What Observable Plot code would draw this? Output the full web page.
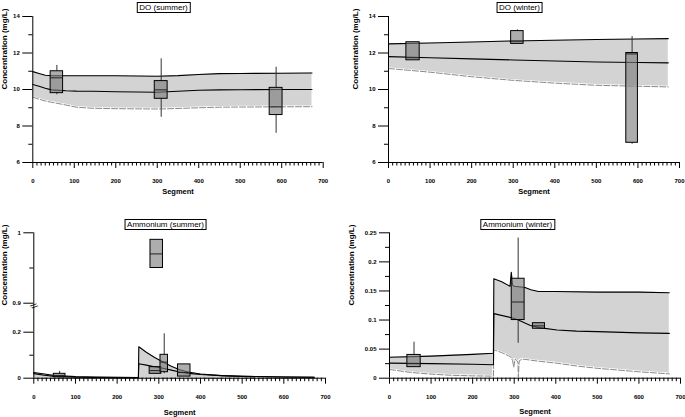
<!DOCTYPE html>
<html><head><meta charset="utf-8">
<script src="https://cdn.jsdelivr.net/npm/d3@7"></script>
<script src="https://cdn.jsdelivr.net/npm/@observablehq/plot@0.6"></script>
<style>
body{margin:0;background:#fff;}
#wrap{position:relative;width:685px;height:417px;overflow:hidden;background:#fff;font-family:"Liberation Sans",Arial,sans-serif;}
.title{position:absolute;transform:translateX(-50%);border:1px solid #000;padding:0 2px;font-size:8px;line-height:9px;white-space:nowrap;background:#fff;color:#000;}
</style></head><body><div id="wrap"></div>
<script>
// ---------- tick labels ----------
const xMajor = [0, 100, 200, 300, 400, 500, 600, 700];
const doYMajor = [6, 8, 10, 12, 14];
const doYMinor = [7, 9, 11, 13];
const amSumYMajor = [0, 0.2, 0.9, 1];
const amSumYMinor = [0.1, 0.95];
const amWinYMajor = [0, 0.05, 0.1, 0.15, 0.2, 0.25];
const amWinYMinor = [0.025, 0.075, 0.125, 0.175, 0.225];

// ---------- DO (summer) ----------
const doSumSeg   = [0, 15, 30, 45, 80, 105, 145, 200, 300, 350, 400, 450, 500, 600, 673];
const doSumUpper = [10.98, 10.88, 10.78, 10.75, 10.75, 10.75, 10.75, 10.75, 10.73, 10.76, 10.82, 10.87, 10.88, 10.89, 10.9];
const doSumMid   = [10.27, 10.18, 10.07, 9.98, 9.93, 9.91, 9.9, 9.88, 9.85, 9.9, 9.96, 9.98, 9.99, 10.0, 10.0];
const doSumLower = [9.58, 9.47, 9.37, 9.3, 9.15, 9.03, 8.97, 8.95, 8.93, 8.96, 9.0, 9.03, 9.04, 9.05, 9.06];
const doSumBoxFrom = [43, 294, 571];
const doSumBoxTo   = [73, 325, 602];
const doSumQ1  = [9.8, 9.49, 8.6];
const doSumQ3  = [11.0, 10.46, 10.09];
const doSumMed = [10.64, 9.98, 9.05];
const doSumLo  = [9.71, 8.48, 7.6];
const doSumHi  = [11.32, 11.68, 11.22];

// ---------- DO (winter) ----------
const doWinSeg   = [0, 100, 200, 300, 400, 500, 600, 673];
const doWinUpper = [12.5, 12.55, 12.6, 12.66, 12.7, 12.74, 12.77, 12.79];
const doWinMid   = [11.8, 11.74, 11.68, 11.62, 11.56, 11.51, 11.48, 11.46];
const doWinLower = [11.15, 10.95, 10.7, 10.5, 10.35, 10.23, 10.18, 10.14];
const doWinBoxFrom = [43, 295, 572];
const doWinBoxTo   = [75, 325, 600];
const doWinQ1  = [11.6, 12.5, 7.08];
const doWinQ3  = [12.59, 13.2, 12.0];
const doWinMed = [11.74, 12.65, 11.95];
const doWinLo  = [11.6, 12.5, 7.0];
const doWinHi  = [12.59, 13.27, 12.9];

// ---------- Ammonium (summer) ----------
const amSumSeg   = [0, 25, 50, 100, 150, 200, 251, 252, 270, 290, 310, 330, 350, 370, 400, 450, 500, 600, 673];
const amSumUpper = [0.025, 0.018, 0.012, 0.007, 0.005, 0.004, 0.003, 0.137, 0.113, 0.09, 0.07, 0.052, 0.037, 0.027, 0.018, 0.011, 0.008, 0.005, 0.004];
const amSumMid   = [0.02, 0.013, 0.008, 0.004, 0.003, 0.002, 0.002, 0.063, 0.057, 0.05, 0.043, 0.035, 0.027, 0.021, 0.016, 0.011, 0.008, 0.005, 0.004];
const amSumLower = [0, 0, 0, 0, 0, 0, 0, 0, 0, 0, 0, 0, 0, 0, 0, 0, 0, 0, 0];
const amSumBoxFrom = [48, 278, 304, 346, 280];
const amSumBoxTo   = [76, 306, 322, 376, 310];
const amSumQ1  = [0.004, 0.019, 0.026, 0.007, 0.95];
const amSumQ3  = [0.019, 0.048, 0.1017, 0.06, 0.99];
const amSumMed = [0.012, 0.033, 0.07, 0.025, 0.97];
const amSumLo  = [0.004, 0.019, 0.02, 0.007, 0.95];
const amSumHi  = [0.03, 0.048, 0.193, 0.06, 0.99];

// ---------- Ammonium (winter) ----------
const amWinUpSeg  = [0, 100, 200, 250, 251, 270, 290, 293, 296, 300, 326, 340, 358, 400, 500, 600, 673];
const amWinUpper  = [0.036, 0.038, 0.041, 0.043, 0.171, 0.166, 0.158, 0.182, 0.16, 0.158, 0.156, 0.152, 0.149, 0.149, 0.148, 0.148, 0.147];
const amWinMidSeg = [0, 100, 200, 250, 251, 294, 310, 339, 360, 403, 450, 500, 600, 673];
const amWinMid    = [0.026, 0.025, 0.024, 0.023, 0.111, 0.104, 0.1, 0.0906, 0.087, 0.083, 0.081, 0.08, 0.078, 0.077];
const amWinLoSeg  = [0, 50, 100, 150, 200, 250, 251, 270, 291, 296, 299, 302, 306, 309, 310, 312, 320, 350, 400, 450, 500, 600, 673];
const amWinLower  = [0.015, 0.01, 0.007, 0.005, 0.004, 0.0035, 0.049, 0.044, 0.037, 0.03, 0.019, 0.033, 0.03, 0.028, 0.002, 0.03, 0.033, 0.03, 0.026, 0.021, 0.017, 0.011, 0.0075];
const amWinBoxFrom = [43, 294, 345];
const amWinBoxTo   = [75, 325, 374];
const amWinQ1  = [0.019, 0.1, 0.085];
const amWinQ3  = [0.04, 0.171, 0.0946];
const amWinMed = [0.025, 0.131, 0.09];
const amWinLo  = [0.019, 0.06, 0.085];
const amWinHi  = [0.062, 0.241, 0.0946];

const xMinor = d3.range(0, 701, 10).filter(v => v % 100 !== 0);
const BAND = "#d3d3d3";
const FONT = "'Liberation Sans', Arial, sans-serif";

function pts(seg, vals) { return seg.map((s, i) => ({s, v: vals[i]})); }

function panel(p) {
  const up = pts(p.upSeg, p.up), mid = pts(p.midSeg, p.mid), lo = pts(p.loSeg, p.lo);
  const boxes = p.from.map((f, i) => ({from: f, to: p.to[i], q1: p.q1[i], q3: p.q3[i], med: p.med[i], wlo: p.wlo[i], whi: p.whi[i]}));
  const yMin = p.yDomain[0], yMax = p.yDomain[p.yDomain.length - 1];
  const cx = d => (d.from + d.to) / 2;
  const marks = [
    Plot.area(up, {x1: "s", y1: () => yMin, y2: "v", fill: BAND}),
    Plot.area(lo, {x1: "s", y1: () => yMin, y2: "v", fill: "#ffffff", stroke: "#ffffff", strokeWidth: 1.5}),
    Plot.line(lo, {x: "s", y: "v", stroke: "#8a8a8a", strokeWidth: 1, strokeDasharray: "6,2"}),
    Plot.line(mid, {x: "s", y: "v", stroke: "#000", strokeWidth: 1.1}),
    Plot.line(up, {x: "s", y: "v", stroke: "#000", strokeWidth: 1.1}),
    Plot.ruleX(boxes.filter(d => d.whi > d.q3), {x: cx, y1: "q3", y2: "whi", stroke: "#333", strokeWidth: 1}),
    Plot.ruleX(boxes.filter(d => d.wlo < d.q1), {x: cx, y1: "wlo", y2: "q1", stroke: "#333", strokeWidth: 1}),
    Plot.rect(boxes, {x1: "from", x2: "to", y1: "q1", y2: "q3", fill: "#7a7a7a", fillOpacity: 0.62, stroke: "#000", strokeWidth: 1}),
    Plot.ruleY(boxes, {x1: "from", x2: "to", y: "med", stroke: "#222", strokeWidth: 1}),
    Plot.ruleX([0], {y1: yMin, y2: yMax, stroke: "#000", strokeWidth: 1}),
    Plot.ruleY([yMin], {x1: 0, x2: 700, stroke: "#000", strokeWidth: 1}),
    Plot.axisY(p.yMajor, {anchor: "left", tickSize: 10, tickPadding: 3, tickFormat: d => String(d), label: null, fontSize: 6, fontWeight: "bold"}),
    Plot.axisY(p.yMinor, {anchor: "left", tickSize: 4, tickFormat: () => "", label: null}),
    Plot.axisX(xMajor, {anchor: "bottom", tickSize: 6, tickPadding: p.xPad, tickFormat: d => String(d), label: null, fontSize: 6, fontWeight: "bold"}),
    Plot.axisX(xMinor, {anchor: "bottom", tickSize: 3.5, tickFormat: () => "", label: null}),
    Plot.text(["Concentration (mg/L)"], {frameAnchor: "left", dx: p.ylabDx, rotate: -90, fontSize: 8, fontWeight: "bold", fill: "#000"}),
    Plot.text(["Segment"], {frameAnchor: "bottom", dy: p.xlabDy, fontSize: 7.5, fontWeight: "bold", fill: "#000"})
  ];
  if (p.breakAt !== undefined) {
    marks.push(Plot.text([p.breakAt], {x: () => 0, y: d => d, text: () => "//", rotate: 55, dy: 3, fontSize: 9, fill: "#000"}));
  }
  const svg = Plot.plot({
    width: p.w, height: p.h,
    marginLeft: p.mL, marginRight: p.mR, marginTop: p.mT, marginBottom: p.mB,
    x: {domain: [0, 700], range: [p.mL, p.w - p.mR], axis: null, label: null},
    y: {type: "linear", domain: p.yDomain, range: p.yRange, axis: null, label: null},
    style: {fontFamily: FONT, fontSize: "6px", background: "transparent", overflow: "visible", color: "#000"},
    marks
  });
  svg.style.position = "absolute";
  svg.style.left = p.left + "px";
  svg.style.top = p.top + "px";
  svg.style.maxWidth = "none";
  return svg;
}

const wrap = document.getElementById("wrap");

wrap.appendChild(panel({
  left: 0, top: 0, w: 342, h: 202, mL: 32.3, mR: 19.3, mT: 16, mB: 40,
  yDomain: [6, 14], yRange: [162, 16], yMajor: doYMajor, yMinor: doYMinor,
  upSeg: doSumSeg, up: doSumUpper, midSeg: doSumSeg, mid: doSumMid, loSeg: doSumSeg, lo: doSumLower,
  from: doSumBoxFrom, to: doSumBoxTo, q1: doSumQ1, q3: doSumQ3, med: doSumMed, wlo: doSumLo, whi: doSumHi,
  xPad: 10, ylabDx: -28, xlabDy: 31
}));

wrap.appendChild(panel({
  left: 340, top: 0, w: 345, h: 202, mL: 48, mR: 6, mT: 16, mB: 40,
  yDomain: [6, 14], yRange: [162, 16], yMajor: doYMajor, yMinor: doYMinor,
  upSeg: doWinSeg, up: doWinUpper, midSeg: doWinSeg, mid: doWinMid, loSeg: doWinSeg, lo: doWinLower,
  from: doWinBoxFrom, to: doWinBoxTo, q1: doWinQ1, q3: doWinQ3, med: doWinMed, wlo: doWinLo, whi: doWinHi,
  xPad: 10, ylabDx: -33, xlabDy: 31
}));

wrap.appendChild(panel({
  left: 0, top: 205, w: 342, h: 212, mL: 33.3, mR: 17, mT: 27.3, mB: 39.3,
  yDomain: [0, 0.2, 0.9, 1], yRange: [172.7, 126.7, 97.7, 27.3], yMajor: amSumYMajor, yMinor: amSumYMinor,
  upSeg: amSumSeg, up: amSumUpper, midSeg: amSumSeg, mid: amSumMid, loSeg: amSumSeg, lo: amSumLower,
  from: amSumBoxFrom, to: amSumBoxTo, q1: amSumQ1, q3: amSumQ3, med: amSumMed, wlo: amSumLo, whi: amSumHi,
  xPad: 11, ylabDx: -29, xlabDy: 36.5, breakAt: 0.9
}));

wrap.appendChild(panel({
  left: 340, top: 205, w: 345, h: 212, mL: 49, mR: 5, mT: 27.3, mB: 39.3,
  yDomain: [0, 0.25], yRange: [172.7, 27.3], yMajor: amWinYMajor, yMinor: amWinYMinor,
  upSeg: amWinUpSeg, up: amWinUpper, midSeg: amWinMidSeg, mid: amWinMid, loSeg: amWinLoSeg, lo: amWinLower,
  from: amWinBoxFrom, to: amWinBoxTo, q1: amWinQ1, q3: amWinQ3, med: amWinMed, wlo: amWinLo, whi: amWinHi,
  xPad: 11, ylabDx: -38, xlabDy: 35.5
}));

const titles = [["DO (summer)", 163.5, 2], ["DO (winter)", 519.5, 2], ["Ammonium (summer)", 165.5, 219], ["Ammonium (winter)", 517.5, 219]];
for (const [t, x, y] of titles) {
  const d = document.createElement("div");
  d.className = "title";
  d.textContent = t;
  d.style.left = x + "px";
  d.style.top = y + "px";
  wrap.appendChild(d);
}
</script></body></html>
